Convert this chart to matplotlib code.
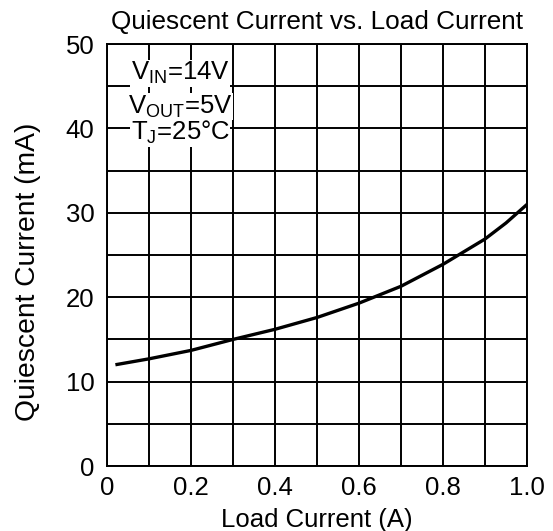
import matplotlib
matplotlib.use("Agg")
import matplotlib.pyplot as plt

plt.rcParams['font.family'] = ['Liberation Sans', 'DejaVu Sans']
plt.rcParams['mathtext.fontset'] = 'custom'
plt.rcParams['mathtext.rm'] = 'Liberation Sans'
plt.rcParams['mathtext.it'] = 'Liberation Sans'

load_current = [0.02, 0.1, 0.2, 0.3, 0.4, 0.5, 0.6, 0.7, 0.8, 0.9, 0.95, 1.0]
quiescent = [12.0, 12.7, 13.7, 15.0, 16.2, 17.6, 19.3, 21.3, 23.9, 26.9, 28.8, 31.0]
x_ticks = [0, 0.2, 0.4, 0.6, 0.8, 1.0]
x_tick_labels = ["0", "0.2", "0.4", "0.6", "0.8", "1.0"]
y_ticks = [0, 10, 20, 30, 40, 50]
x_grid = [i / 10 for i in range(11)]
y_grid = [i * 5 for i in range(11)]
conditions = [r"V$_{\mathrm{IN}}$=14V", r"V$_{\mathrm{OUT}}$=5V", r"T$_{\mathrm{J}}$=25°C"]

FS = 18.5
fig = plt.figure(figsize=(5.53, 5.31), dpi=100)
ax = fig.add_axes([0.1935, 0.1224, 0.7595, 0.7946])

for gx in x_grid:
    ax.axvline(gx, color='black', lw=1.4, zorder=1)
for gy in y_grid:
    ax.axhline(gy, color='black', lw=1.4, zorder=1)

ax.plot(load_current, quiescent, color='black', lw=2.4, zorder=3, solid_capstyle='butt')

ax.set_xlim(0, 1.0)
ax.set_ylim(0, 50)
ax.set_xticks(x_ticks)
ax.set_xticklabels(x_tick_labels)
ax.set_yticks(y_ticks)
ax.tick_params(length=0, labelsize=FS)
ax.tick_params(axis='x', pad=7)
ax.tick_params(axis='y', pad=9)
for s in ax.spines.values():
    s.set_linewidth(1.4)

ax.set_title("Quiescent Current vs. Load Current", fontsize=18.8, pad=11)
ax.set_xlabel("Load Current (A)", fontsize=FS, labelpad=6)
ax.set_ylabel("Quiescent Current (mA)", fontsize=20.3)
ax.yaxis.set_label_coords(-0.156, 0.461)

ypos = [0.931, 0.852, 0.790]
for t, yp in zip(conditions, ypos):
    ax.text(0.174, yp, t, transform=ax.transAxes, ha='center', va='center',
            fontsize=FS, zorder=5,
            bbox=dict(facecolor='white', edgecolor='none', pad=0.3))

fig.savefig("out.png", dpi=100)
